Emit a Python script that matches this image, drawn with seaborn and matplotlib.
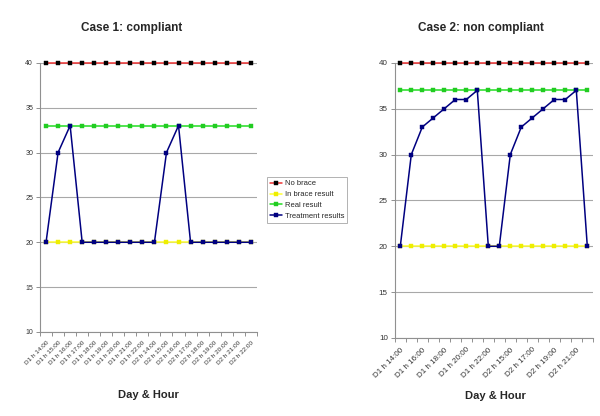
import matplotlib
matplotlib.use("Agg")
import matplotlib.pyplot as plt
import seaborn as sns
import pandas as pd
import numpy as np

categories = ["D1 h 14:00", "D1 h 15:00", "D1 h 16:00", "D1 h 17:00", "D1 h 18:00",
              "D1 h 19:00", "D1 h 20:00", "D1 h 21:00", "D1 h 22:00",
              "D2 h 14:00", "D2 h 15:00", "D2 h 16:00", "D2 h 17:00", "D2 h 18:00",
              "D2 h 19:00", "D2 h 20:00", "D2 h 21:00", "D2 h 22:00"]

case1_no_brace = [40] * 18
case1_in_brace = [20] * 18
case1_real = [33] * 18
case1_treatment = [20, 30, 33, 20, 20, 20, 20, 20, 20, 20, 30, 33, 20, 20, 20, 20, 20, 20]

case2_no_brace = [40] * 18
case2_in_brace = [20] * 18
case2_real = [37] * 18
case2_treatment = [20, 30, 33, 34, 35, 36, 36, 37, 20, 20, 30, 33, 34, 35, 36, 36, 37, 20]

series_names = ["No brace", "In brace result", "Real result", "Treatment results"]
line_colors = ["#ee3333", "#ffff33", "#22dd22", "#000080"]
marker_colors = ["#000000", "#eeee00", "#22cc22", "#000080"]

y_ticks = [10, 15, 20, 25, 30, 35, 40]

sns.set_style("white")
plt.rcParams['font.family'] = ['Liberation Sans', 'DejaVu Sans']

fig = plt.figure(figsize=(6.0, 4.16), dpi=100)
ax1 = fig.add_axes([0.0667, 0.202, 0.3613, 0.647])
ax2 = fig.add_axes([0.658, 0.1875, 0.330, 0.6615])


def draw(ax, values, label_step, title, title_x, xfs, yfs):
    pos = np.arange(len(categories))
    for name, vals, lc, mc in zip(series_names, values, line_colors, marker_colors):
        df = pd.DataFrame({"pos": pos, "value": vals})
        sns.lineplot(data=df, x="pos", y="value", ax=ax, color=lc, lw=1.1,
                     marker="s", markersize=2.2, markerfacecolor=mc, markeredgecolor=mc,
                     markeredgewidth=0.3, label=name, legend=False, zorder=3,
                     clip_on=False)
    ax.set_xlim(-0.5, len(categories) - 0.5)
    ax.set_ylim(10, 40)
    ax.set_yticks(y_ticks)
    ax.set_yticklabels([str(t) for t in y_ticks], fontsize=yfs, color="#333333")
    ax.yaxis.grid(True, color="#a8a8a8", lw=0.8)
    ax.xaxis.grid(False)
    ax.set_axisbelow(True)
    ax.set_xticks(pos[::label_step])
    ax.set_xticklabels(categories[::label_step], rotation=45, ha="right",
                       rotation_mode="anchor", fontsize=xfs, color="#333333")
    ax.set_xticks(np.arange(-0.5, len(categories), 1.0), minor=True)
    ax.tick_params(axis="x", which="major", length=0, pad=6)
    ax.tick_params(axis="x", which="minor", length=3, width=0.7, color="#909090",
                   direction="out", bottom=True)
    ax.tick_params(axis="y", length=3, width=0.7, color="#909090", direction="out",
                   left=True, pad=2)
    for s in ["top", "right"]:
        ax.spines[s].set_visible(False)
    for s in ["left", "bottom"]:
        ax.spines[s].set_color("#909090")
        ax.spines[s].set_linewidth(0.8)
    ax.set_xlabel("")
    ax.set_ylabel("")
    fig.text(title_x, 1 - 28 / 416, title, ha="center", va="center",
             fontsize=8.5, fontweight="bold")


draw(ax1, [case1_no_brace, case1_in_brace, case1_real, case1_treatment], 1,
     "Case 1: compliant", 132 / 600, 4.6, 5.0)
draw(ax2, [case2_no_brace, case2_in_brace, case2_real, case2_treatment], 2,
     "Case 2: non compliant", 481 / 600, 5.8, 5.8)

fig.text(148 / 600, 1 - 395 / 416, "Day & Hour", ha="center", va="center",
         fontsize=8, fontweight="bold")
fig.text(495 / 600, 1 - 396 / 416, "Day & Hour", ha="center", va="center",
         fontsize=8, fontweight="bold")

handles, labels = ax1.get_legend_handles_labels()
leg = fig.legend(handles, labels, loc="upper left",
                 bbox_to_anchor=(267 / 600, 1 - 177 / 416),
                 fontsize=5.5, frameon=True, fancybox=False, handlelength=1.6,
                 handletextpad=0.3, borderpad=0.4, labelspacing=0.45,
                 borderaxespad=0)
leg.get_frame().set_edgecolor("#909090")
leg.get_frame().set_linewidth(0.6)

fig.savefig("out.png", dpi=100)
